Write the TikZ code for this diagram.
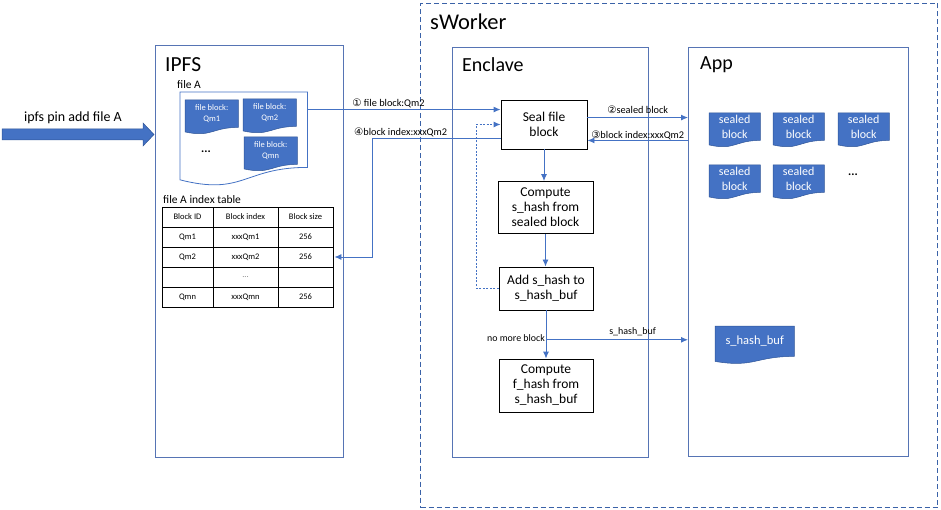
\documentclass[tikz,border=0pt]{standalone}
\usepackage{fontspec}
\setmainfont{Carlito}
\newfontfamily\circfont{DejaVu Sans}
\usepackage{tikz}
\usetikzlibrary{arrows.meta}
\usetikzlibrary{calc}
\usetikzlibrary{positioning}
\usetikzlibrary{backgrounds}

\definecolor{flowblue}{HTML}{4472C4}
\definecolor{boxblue}{HTML}{5674B4}
\definecolor{darkblue}{HTML}{2F5597}
\definecolor{dashblue}{HTML}{3A62A8}

% document shape with wavy bottom, drawn behind the node
\newcommand{\docpath}[2]{%
	\begin{pgfonlayer}{background}
	\path[#1] (#2.north west) -- (#2.north east) -- (#2.south east)
		.. controls (#2.south) and ($(#2.north)!1.381!(#2.south)$) ..
		($(#2.north west)!1.165!(#2.south west)$) -- cycle;
	\end{pgfonlayer}}

\begin{document}
\begin{tikzpicture}
	[
	x=1pt, y=-1pt,
	> = {Latex[length=7pt, width=6pt]},
	flow/.style = {draw=flowblue, line width=0.9pt},
	outerbox/.style = {draw=boxblue, line width=0.9pt, inner sep=0, anchor=north west},
	stepbox/.style = {draw=black, line width=0.9pt, inner sep=0, align=center, font=\fontsize{13.5}{15}\selectfont},
	docnode/.style = {inner sep=0, align=center, text=white, anchor=north west},
	docfill/.style = {fill=flowblue, draw=darkblue, line width=0.5pt},
	cell/.style = {draw, line width=0.9pt, inner sep=0, minimum height=20, font=\fontsize{8.5}{10}\selectfont},
	title/.style = {inner sep=0, anchor=west, font=\fontsize{20}{24}\selectfont},
	lbl/.style = {inner sep=1pt, font=\fontsize{10.3}{12}\selectfont}
	]
	\useasboundingbox (0,0) rectangle (941,510);

	% frames
	\node[draw=dashblue, dash pattern=on 5pt off 3pt, line width=1pt, inner sep=0, anchor=north west, minimum width=517, minimum height=504] (sworker) at (420,3) {};
	\node[outerbox, minimum width=188, minimum height=412] (ipfs) at (155,45) {};
	\node[outerbox, minimum width=196, minimum height=410] (enclave) at (452,47) {};
	\node[outerbox, minimum width=220, minimum height=409] (app) at (688,47) {};
	\node[title, font=\fontsize{22.5}{26}\selectfont] (sworkerlbl) at (430,22) {sWorker};
	\node[title, font=\fontsize{21.5}{26}\selectfont] (ipfslbl) at (165,65) {IPFS};
	\node[title] (enclavelbl) at (462,65) {Enclave};
	\node[title] (applbl) at (700,65) {App};

	% command arrow
	\node[inner sep=0, font=\fontsize{14}{16}\selectfont] (cmd) at (73,118) {ipfs pin add file A};
	\filldraw[fill=flowblue, draw=darkblue, line width=0.5pt] (2,129) -- (143,129) -- (143,123) -- (154,134.5) -- (143,146) -- (143,140) -- (2,140) -- cycle;

	% file A and its blocks
	\node[inner sep=0, anchor=west, font=\fontsize{11.5}{13}\selectfont] (fileAlbl) at (177,85) {file A};
	\node[docnode, minimum width=127, minimum height=75] (fileA) at (180,92) {};
	\docpath{fill=white, draw=flowblue, line width=0.8pt}{fileA}
	\foreach \x/\y/\q in {185/100/Qm1, 243/99/Qm2, 244/137/Qmn}
	{
		\node[docnode, minimum width=53, minimum height=27, font=\fontsize{8.5}{10.5}\selectfont] (fb\q) at (\x,\y) {file block:\\\q};
		\docpath{docfill}{fb\q}
	}
	\node[inner sep=0, font=\fontsize{12}{14}\selectfont\bfseries] (fdots) at (206,152) {...};

	% index table
	\node[inner sep=0, anchor=west, font=\fontsize{11.5}{13}\selectfont] (tablbl) at (163,200) {file A index table};
	\foreach \r/\a/\b/\c in {0/Block ID/Block index/Block size, 1/Qm1/xxxQm1/256, 2/Qm2/xxxQm2/256, 3//\textcolor{gray}{...}/, 4/Qmn/xxxQmn/256}
	{
		\node[cell, minimum width=51] (tab-\r-1) at (187.5,{217+20*\r}) {\a};
		\node[cell, minimum width=65] (tab-\r-2) at (245.5,{217+20*\r}) {\b};
		\node[cell, minimum width=55] (tab-\r-3) at (305.5,{217+20*\r}) {\c};
	}

	% enclave steps
	\node[stepbox, minimum width=86, minimum height=49] (seal) at (544,124.5) {Seal file\\block};
	\node[stepbox, minimum width=95, minimum height=52] (comps) at (545.5,207.5) {Compute\\s\_hash from\\sealed block};
	\node[stepbox, minimum width=94, minimum height=43] (adds) at (546,288.5) {Add s\_hash to\\s\_hash\_buf};
	\node[stepbox, minimum width=94, minimum height=53] (compf) at (546,385.5) {Compute\\f\_hash from\\s\_hash\_buf};

	% app storage
	\foreach \x/\y [count=\i] in {709/113, 773/113, 838/113, 709/165, 773/165}
	{
		\node[docnode, minimum width=51, minimum height=27, font=\fontsize{12}{14.5}\selectfont] (sb\i) at (\x,\y) {sealed\\block};
		\docpath{docfill}{sb\i}
	}
	\node[inner sep=0, font=\fontsize{12}{14}\selectfont\bfseries] (adots) at (853,175) {...};
	\node[docnode, minimum width=79, minimum height=30, font=\fontsize{12.5}{14}\selectfont] (buf) at (715,326) {s\_hash\_buf};
	\docpath{docfill}{buf}

	% connectors
	\coordinate (in1) at ([yshift=-10pt]seal.north west);
	\coordinate (out2) at ([yshift=-18pt]seal.north east);
	\coordinate (in3) at ([yshift=9pt]seal.south east);
	\coordinate (out4) at ([yshift=11pt]seal.south west);
	\coordinate (split) at ($(adds.south)!0.61!(compf.north)$);

	\draw[flow,->] (fileA.east |- in1) -- (in1) node[lbl, pos=0.42, above=0pt] {{\circfont ①} file block:Qm2};
	\draw[flow,->] (out2) -- (out2 -| app.west) node[lbl, midway, above=2pt] {{\circfont ②}sealed block};
	\draw[flow,->] (in3 -| app.west) -- (in3) node[lbl, midway, above=-1pt] {{\circfont ③}block index:xxxQm2};
	\draw[flow,->] (out4) -| ([xshift=39pt]tab-2-3.east) node[lbl, pos=0.39, above=0pt] {{\circfont ④}block index:xxxQm2} -- ([xshift=1pt]tab-2-3.east);

	\draw[flow,->] (seal.south) -- (seal.south |- comps.north);
	\draw[flow,->] (comps.south) -- (comps.south |- adds.north);
	\draw[flow,->] (adds.south) -- (compf.north);
	\draw[flow, dash pattern=on 2pt off 1.5pt, ->] (adds.west) -- ++(-22,0) |- (seal.west);
	\draw[flow,->] (split) -- (split -| app.west) node[lbl, pos=0.61, above=2pt, font=\fontsize{10}{12}\selectfont] {s\_hash\_buf};
	\node[lbl, anchor=east, yshift=2pt, font=\fontsize{9.9}{12}\selectfont] (nomore) at (split) {no more block};
\end{tikzpicture}
\end{document}
